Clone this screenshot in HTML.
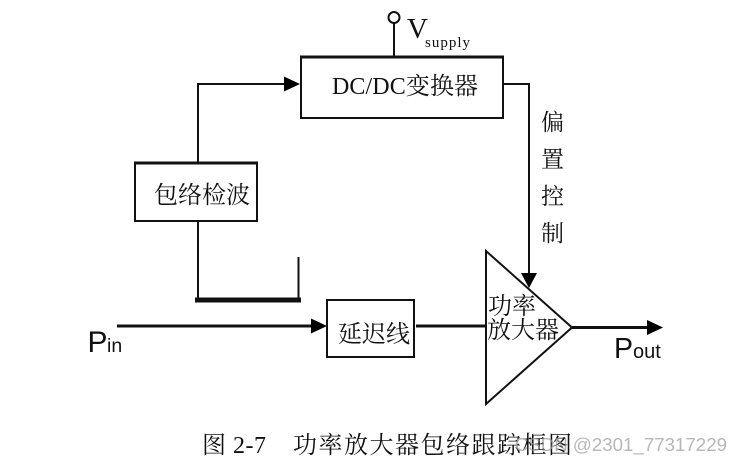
<!DOCTYPE html>
<html>
<head>
<meta charset="utf-8">
<style>
html,body{margin:0;padding:0;background:#fff;width:742px;height:463px;overflow:hidden}
svg{display:block}
.s{font-family:"Liberation Serif","Noto Serif CJK SC",serif;fill:#111}
.a{font-family:"Liberation Sans",sans-serif;fill:#111}
</style>
</head>
<body>
<svg width="742" height="463" viewBox="0 0 742 463" xmlns="http://www.w3.org/2000/svg">
<rect width="742" height="463" fill="#fff"/>
<g fill="none" stroke="#111" stroke-width="2">
  <!-- boxes -->
  <path d="M301 57V118H503V57Z"/>
  <path d="M300 57H504" stroke-width="3"/>
  <path d="M135 163V221H257V163Z"/>
  <path d="M134 163H258" stroke-width="3"/>
  <path d="M327 300V357H414V300Z"/>
  <!-- connectors -->
  <path d="M198 162V84H286" stroke-width="2"/>
  <path d="M394 23V56"/>
  <path d="M503 84H529V274"/>
  <path d="M198 221V298"/>
  <path d="M298.500 257V298"/>
  <path d="M195 300H301" stroke-width="5"/>
  <path d="M117 326H312" stroke-width="3"/>
  <path d="M416 326H486" stroke-width="3"/>
  <path d="M572 327.500H648" stroke-width="3"/>
  <!-- amplifier -->
  <path d="M486 251L572 327.500L486 404Z"/>
  <circle cx="394" cy="17.500" r="5.500"/>
</g>
<g fill="#000">
  <path d="M284 76.500L300 84L284 91.500Z"/>
  <path d="M311 318.500L327 326L311 333.500Z"/>
  <path d="M521 273H537L529 288Z"/>
  <path d="M647 320L663 327.500L647 335Z"/>
</g>
<g class="s">
  <text x="332" y="94" font-size="24" letter-spacing="0.100">DC/DC变换器</text>
  <text x="154" y="203" font-size="24">包络检波</text>
  <text x="338" y="342" font-size="24">延迟线</text>
  <text x="407" y="38" font-size="29">V</text>
  <text x="425" y="47" font-size="15" letter-spacing="1">supply</text>
  <text x="541" y="130" font-size="23">偏</text>
  <text x="541" y="167" font-size="23">置</text>
  <text x="541" y="204" font-size="23">控</text>
  <text x="541" y="241" font-size="23">制</text>
  <text x="488" y="314" font-size="24">功率</text>
  <text x="487" y="338" font-size="24">放大器</text>
  <text x="202" y="453" font-size="24" letter-spacing="0.500">图 2-7</text>
  <text x="293" y="453" font-size="24" letter-spacing="1.500">功率放大器包络跟踪框图</text>
</g>
<g class="a">
  <text x="87.500" y="352" font-size="30">P</text>
  <text x="107" y="352" font-size="19.500">in</text>
  <text x="614" y="358" font-size="28.500">P</text>
  <text x="633" y="358" font-size="20">out</text>
  <text x="727" y="451" font-size="18.700" text-anchor="end" style="fill:#999;fill-opacity:.7">CSDN @2301_77317229</text>
</g>
</svg>
</body>
</html>
